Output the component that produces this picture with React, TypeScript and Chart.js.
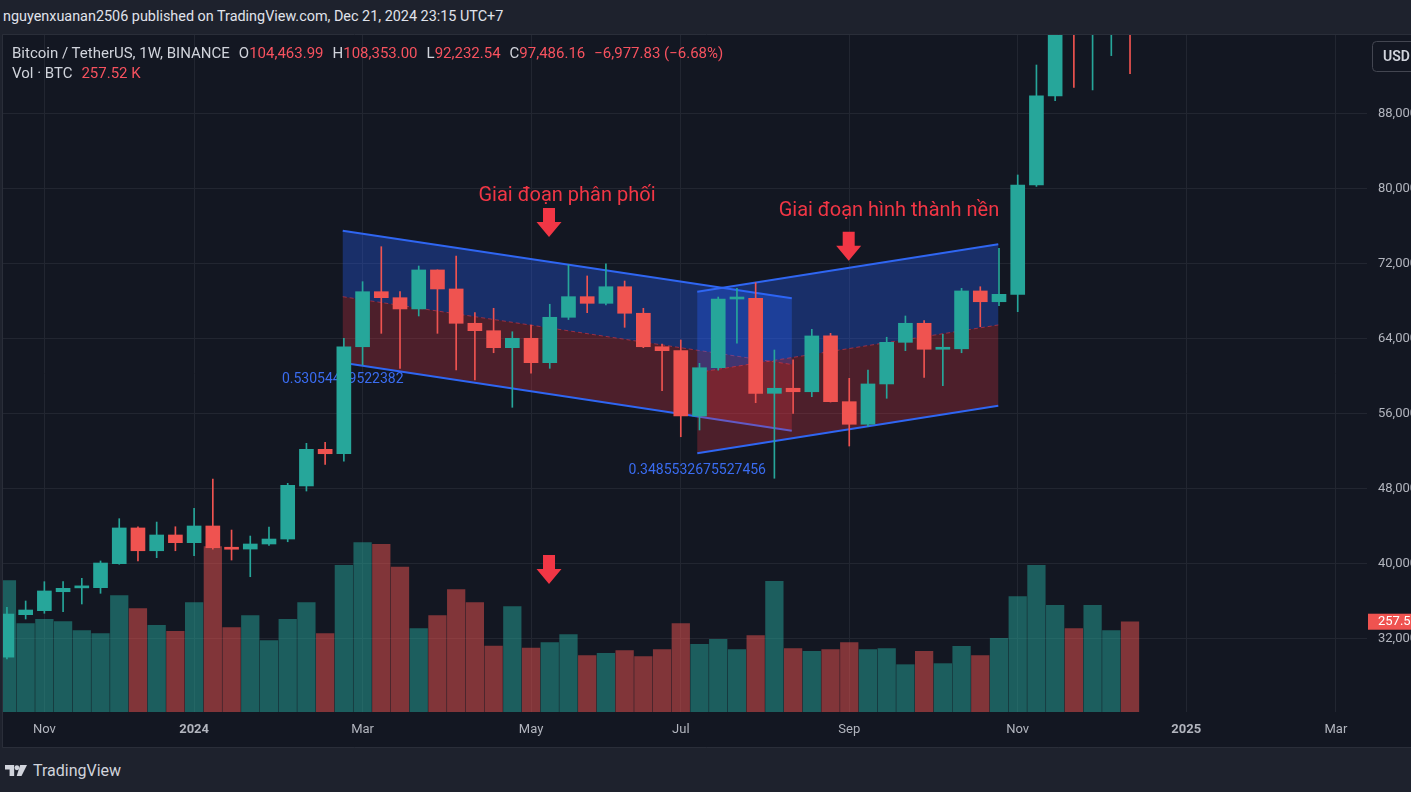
import React, { useEffect, useRef } from 'react';
import { Chart, registerables } from 'chart.js';

Chart.register(...registerables);

// ---------- data (weekly candles, BINANCE BTC/USDT) ----------
const WEEKS = [
  '2023-10-23', '2023-10-30', '2023-11-06', '2023-11-13', '2023-11-20', '2023-11-27', '2023-12-04', '2023-12-11', '2023-12-18', '2023-12-25',
  '2024-01-01', '2024-01-08', '2024-01-15', '2024-01-22', '2024-01-29', '2024-02-05', '2024-02-12', '2024-02-19', '2024-02-26',
  '2024-03-04', '2024-03-11', '2024-03-18', '2024-03-25', '2024-04-01', '2024-04-08', '2024-04-15', '2024-04-22', '2024-04-29',
  '2024-05-06', '2024-05-13', '2024-05-20', '2024-05-27', '2024-06-03', '2024-06-10', '2024-06-17', '2024-06-24',
  '2024-07-01', '2024-07-08', '2024-07-15', '2024-07-22', '2024-07-29', '2024-08-05', '2024-08-12', '2024-08-19', '2024-08-26',
  '2024-09-02', '2024-09-09', '2024-09-16', '2024-09-23', '2024-09-30', '2024-10-07', '2024-10-14', '2024-10-21', '2024-10-28',
  '2024-11-04', '2024-11-11', '2024-11-18', '2024-11-25', '2024-12-02', '2024-12-09', '2024-12-16',
];

const OPEN = [
  29990, 34520, 34950, 36970, 37380, 37400, 39960, 43770, 41340, 43020,
  42200, 43980, 41660, 41520, 42060, 42590, 48250, 52160, 51690,
  63100, 68970, 68330, 67130, 71290, 69260, 65600, 64810, 63000,
  64000, 61400, 66240, 68440, 67730, 69500, 66670, 63100,
  62680, 55710, 60860, 68190, 68260, 58130, 58670, 58300, 64250,
  57240, 54830, 59130, 63570, 65600, 62830, 62880, 69050, 67900,
  68690, 80350, 89850, 97900, 97200, 101100, 104464,
];

const HIGH = [
  35300, 35980, 38040, 38040, 38400, 40250, 44760, 43900, 44400, 43900,
  45870, 48990, 43550, 42910, 43870, 48530, 52800, 52910, 64000,
  70040, 73770, 68970, 71710, 71300, 72780, 66730, 67200, 64700,
  65420, 67630, 71820, 70650, 71930, 70110, 67200, 63390,
  63820, 61330, 68400, 69330, 69930, 62750, 61690, 64960, 64530,
  59730, 60620, 64110, 66380, 65900, 64430, 69330, 69500, 73600,
  81420, 93150, 99500, 98900, 104000, 105200, 108353,
];

const LOW = [
  29800, 34060, 34670, 34840, 35660, 36800, 39900, 40250, 40600, 41340,
  40810, 41500, 40350, 38570, 41900, 42300, 47710, 50560, 50900,
  61150, 64530, 60800, 66380, 64530, 60620, 59550, 62460, 56640,
  60270, 60800, 66000, 66730, 67550, 65170, 63000, 58410,
  53500, 54220, 60600, 63470, 57130, 49070, 56000, 57770, 57200,
  52510, 54600, 57600, 62680, 59840, 58940, 62460, 65240, 67480,
  66840, 80200, 89350, 90770, 90490, 94150, 92233,
];

const CLOSE = [
  34590, 35020, 37050, 37330, 37440, 40030, 43770, 41340, 43020, 42200,
  43980, 41660, 41500, 42060, 42590, 48320, 52160, 51690, 63100,
  68970, 68330, 67130, 71290, 69260, 65600, 64810, 63000, 64000,
  61400, 66240, 68440, 67730, 69500, 66670, 63100, 62680,
  55710, 60860, 68190, 68260, 58130, 58670, 58300, 64250, 57240,
  54830, 59130, 63570, 65600, 62830, 62880, 69050, 67900, 68690,
  80350, 89850, 97900, 97200, 101100, 104464, 97486,
];

// volume in thousands of BTC
const VOLUME_K = [
  375, 252, 264, 258, 232, 224, 332, 295, 247, 230,
  312, 472, 241, 275, 204, 264, 312, 224, 418,
  483, 478, 413, 238, 275, 349, 312, 188, 301,
  182, 198, 221, 161, 167, 175, 158, 178,
  252, 193, 207, 178, 218, 373, 181, 173, 178,
  198, 178, 181, 135, 173, 138, 187, 161, 210,
  329, 418, 304, 238, 304, 232, 257.52,
];

const X_TICK_DATES = ['2023-11-06', '2024-01-01', '2024-03-04', '2024-05-06', '2024-07-01', '2024-09-02', '2024-11-04', '2025-01-06', '2025-03-03'];
const X_TICK_LABELS = ['Nov', '2024', 'Mar', 'May', 'Jul', 'Sep', 'Nov', '2025', 'Mar'];
const X_TICK_BOLD = ['2024', '2025'];
const PRICE_TICKS = [32000, 40000, 48000, 56000, 64000, 72000, 80000, 88000];

// axis ranges (weeks from origin week, USDT, K BTC)
const ORIGIN_WEEK = '2023-11-06';
const X_MIN = -2.21;
const X_MAX = 70.66;
const PRICE_MIN = 24140;
const PRICE_MAX = 96350;
const VOLUME_MAX_K = 1931;

// drawings, in data coordinates (week index, price)
const DISTRIBUTION_CHANNEL = { x0: 15.94, x1: 39.93, top0: 75480, top1: 68270, bot0: 61390, bot1: 54140, label: '0.53054439522382' };
const BASE_CHANNEL = { x0: 34.88, x1: 50.96, top0: 68970, top1: 74030, bot0: 51730, bot1: 56810, label: '0.3485532675527456' };
const CHANNELS = [DISTRIBUTION_CHANNEL, BASE_CHANNEL];

const NOTE_TEXTS = ['Giai đoạn phân phối', 'Giai đoạn hình thành nền'];
const NOTE_X = [27.92, 45.12];
const NOTE_PRICE = [79180, 77580];

const ARROW_X = [26.96, 42.97, 26.96];
const ARROW_TOP_PRICE = [77900, 75370, 40890];

// ---------- style ----------
const FONT = 'Roboto, "Noto Sans", "DejaVu Sans", sans-serif';
const OUTER_BG = '#1e222d';
const PANEL_BG = '#131722';
const FRAME = '#2a2e39';
const GRID = '#222631';
const TEXT = '#d1d4dc';
const AXIS_TEXT = '#b2b5be';
const UP = '#26a69a';
const DOWN = '#ef5350';
const VOL_UP = 'rgba(38,166,154,0.5)';
const VOL_DOWN = 'rgba(239,83,80,0.5)';
const RED_TEXT = '#f23645';
const LEGEND_RED = '#f7525f';

const weekIndex = (d: string) =>
  Math.round((Date.parse(d + 'T00:00:00Z') - Date.parse(ORIGIN_WEEK + 'T00:00:00Z')) / (7 * 86400000));

const drawingsPlugin = {
  id: 'tvDrawings',
  beforeDraw(chart: any) {
    const { ctx, width, height } = chart;
    ctx.save();
    ctx.fillStyle = OUTER_BG;
    ctx.fillRect(0, 0, width, height);
    ctx.fillStyle = PANEL_BG;
    ctx.fillRect(3, 0, width - 3, height - 1);
    ctx.restore();
  },
  beforeDatasetsDraw(chart: any) {
    const { ctx, chartArea } = chart;
    const x = chart.scales.x;
    const y = chart.scales.y;
    ctx.save();
    ctx.beginPath();
    ctx.rect(chartArea.left, chartArea.top, chartArea.right - chartArea.left, chartArea.bottom - chartArea.top);
    ctx.clip();
    for (const ch of CHANNELS) {
      const X0 = x.getPixelForValue(ch.x0);
      const X1 = x.getPixelForValue(ch.x1);
      const T0 = y.getPixelForValue(ch.top0);
      const T1 = y.getPixelForValue(ch.top1);
      const B0 = y.getPixelForValue(ch.bot0);
      const B1 = y.getPixelForValue(ch.bot1);
      const M0 = (T0 + B0) / 2;
      const M1 = (T1 + B1) / 2;
      ctx.fillStyle = 'rgba(41,98,255,0.32)';
      ctx.beginPath();
      ctx.moveTo(X0, T0); ctx.lineTo(X1, T1); ctx.lineTo(X1, M1); ctx.lineTo(X0, M0); ctx.closePath();
      ctx.fill();
      ctx.fillStyle = 'rgba(242,54,69,0.26)';
      ctx.beginPath();
      ctx.moveTo(X0, M0); ctx.lineTo(X1, M1); ctx.lineTo(X1, B1); ctx.lineTo(X0, B0); ctx.closePath();
      ctx.fill();
      ctx.strokeStyle = 'rgba(242,54,69,0.55)';
      ctx.lineWidth = 1;
      ctx.setLineDash([4, 3]);
      ctx.beginPath(); ctx.moveTo(X0, M0); ctx.lineTo(X1, M1); ctx.stroke();
      ctx.setLineDash([]);
      ctx.strokeStyle = '#2f66f2';
      ctx.lineWidth = 2;
      ctx.beginPath(); ctx.moveTo(X0, T0); ctx.lineTo(X1, T1); ctx.stroke();
      ctx.beginPath(); ctx.moveTo(X0, B0); ctx.lineTo(X1, B1); ctx.stroke();
      ctx.fillStyle = '#3a6cf0';
      ctx.font = '14px ' + FONT;
      ctx.textAlign = 'center';
      ctx.textBaseline = 'middle';
      ctx.fillText(ch.label, X0, B0 + 17);
    }
    ctx.restore();
  },
  afterDatasetsDraw(chart: any) {
    const { ctx, chartArea } = chart;
    const x = chart.scales.x;
    const y = chart.scales.y;
    ctx.save();
    ctx.beginPath();
    ctx.rect(chartArea.left, chartArea.top, chartArea.right - chartArea.left, chartArea.bottom - chartArea.top);
    ctx.clip();
    ctx.fillStyle = RED_TEXT;
    ctx.font = '20px ' + FONT;
    ctx.textAlign = 'center';
    ctx.textBaseline = 'middle';
    NOTE_TEXTS.forEach((t, i) => {
      ctx.fillText(t, x.getPixelForValue(NOTE_X[i]), y.getPixelForValue(NOTE_PRICE[i]));
    });
    ARROW_X.forEach((ax, i) => {
      const cx = x.getPixelForValue(ax);
      const top = y.getPixelForValue(ARROW_TOP_PRICE[i]);
      ctx.beginPath();
      ctx.moveTo(cx - 6, top);
      ctx.lineTo(cx + 6, top);
      ctx.lineTo(cx + 6, top + 14);
      ctx.lineTo(cx + 12.5, top + 14);
      ctx.lineTo(cx, top + 29);
      ctx.lineTo(cx - 12.5, top + 14);
      ctx.lineTo(cx - 6, top + 14);
      ctx.closePath();
      ctx.fill();
    });
    ctx.restore();
  },
  afterDraw(chart: any) {
    const { ctx, chartArea, width, height } = chart;
    const yv = chart.scales.yv;
    ctx.save();
    // frame
    ctx.strokeStyle = FRAME;
    ctx.lineWidth = 1;
    ctx.beginPath();
    ctx.moveTo(2.5, 0.5); ctx.lineTo(width, 0.5);
    ctx.moveTo(2.5, 0.5); ctx.lineTo(2.5, height - 0.5);
    ctx.moveTo(2.5, height - 0.5); ctx.lineTo(width, height - 0.5);
    ctx.stroke();
    // currency button
    const bx = chartArea.right + 5;
    ctx.strokeStyle = '#434651';
    ctx.fillStyle = PANEL_BG;
    ctx.beginPath();
    ctx.roundRect(bx + 0.5, 7.5, 48, 30, 4);
    ctx.fill();
    ctx.stroke();
    ctx.fillStyle = TEXT;
    ctx.font = '600 14px ' + FONT;
    ctx.textAlign = 'left';
    ctx.textBaseline = 'middle';
    ctx.fillText('USD', bx + 11, 23);
    // last volume label
    const lastV = VOLUME_K[VOLUME_K.length - 1];
    const vy = yv.getPixelForValue(lastV);
    ctx.fillStyle = DOWN;
    ctx.fillRect(chartArea.right + 1, vy - 8, width - chartArea.right, 16);
    ctx.fillStyle = '#ffffff';
    ctx.font = '13px ' + FONT;
    ctx.fillText(lastV.toFixed(2) + 'K', chartArea.right + 11, vy + 0.5);
    ctx.restore();
  },
};

function TVLogo() {
  return (
    <svg width="22" height="13" viewBox="0 0 24 14" style={{ display: 'block' }}>
      <path d="M0 1h10v12H5V6H0z" fill={TEXT} />
      <circle cx="13" cy="4" r="2.6" fill={TEXT} />
      <path d="M16.5 1H24l-6 12h-5.2z" fill={TEXT} />
    </svg>
  );
}

export default function App() {
  const canvasRef = useRef<HTMLCanvasElement>(null);

  useEffect(() => {
    const canvas = canvasRef.current;
    if (!canvas) return;
    const xs = WEEKS.map(weekIndex);
    const isUp = CLOSE.map((c, i) => c >= OPEN[i]);
    const candleColors = isUp.map((u) => (u ? UP : DOWN));
    const volColors = isUp.map((u) => (u ? VOL_UP : VOL_DOWN));
    const tickPos = X_TICK_DATES.map(weekIndex);

    const chart = new Chart(canvas, {
      type: 'bar',
      data: {
        datasets: [
          {
            label: 'body',
            data: xs.map((x, i) => ({ x, y: [OPEN[i], CLOSE[i]] })) as any,
            backgroundColor: candleColors,
            barThickness: 14,
            minBarLength: 2,
            grouped: false,
            order: 1,
            yAxisID: 'y',
          },
          {
            label: 'wick',
            data: xs.map((x, i) => ({ x, y: [LOW[i], HIGH[i]] })) as any,
            backgroundColor: candleColors,
            barThickness: 1,
            grouped: false,
            order: 2,
            yAxisID: 'y',
          },
          {
            label: 'volume',
            data: xs.map((x, i) => ({ x, y: VOLUME_K[i] })) as any,
            backgroundColor: volColors,
            barThickness: 17.6,
            grouped: false,
            order: 3,
            yAxisID: 'yv',
          },
        ],
      },
      options: {
        animation: false,
        responsive: false,
        devicePixelRatio: 1,
        layout: { autoPadding: false, padding: { left: 3, top: 1, right: 0, bottom: 0 } },
        plugins: { legend: { display: false }, tooltip: { enabled: false } },
        scales: {
          x: {
            type: 'linear',
            min: X_MIN,
            max: X_MAX,
            offset: false,
            grid: { color: GRID, drawTicks: false, offset: false },
            border: { display: false },
            afterBuildTicks: (s: any) => {
              s.ticks = tickPos.map((v) => ({ value: v }));
            },
            afterFit: (s: any) => {
              s.height = 36;
              s.paddingLeft = 0;
              s.paddingRight = 0;
              s.paddingTop = 0;
              s.paddingBottom = 0;
            },
            ticks: {
              autoSkip: false,
              maxRotation: 0,
              padding: 10,
              color: AXIS_TEXT,
              font: (c: any) => {
                const label = X_TICK_LABELS[tickPos.indexOf(c.tick ? c.tick.value : NaN)];
                return { family: FONT, size: 13, weight: X_TICK_BOLD.includes(label) ? 'bold' : 'normal' };
              },
              callback: (v: any) => X_TICK_LABELS[tickPos.indexOf(Number(v))] ?? '',
            },
          },
          y: {
            type: 'linear',
            position: 'right',
            min: PRICE_MIN,
            max: PRICE_MAX,
            grid: { color: GRID, drawTicks: false },
            border: { display: false },
            afterBuildTicks: (s: any) => {
              s.ticks = PRICE_TICKS.map((v) => ({ value: v }));
            },
            afterFit: (s: any) => {
              s.width = 44;
              s.paddingTop = 0;
              s.paddingBottom = 0;
              s.paddingLeft = 0;
              s.paddingRight = 0;
            },
            ticks: {
              padding: 11,
              color: AXIS_TEXT,
              font: { family: FONT, size: 13 },
              callback: (v: any) => Number(v).toLocaleString('en-US'),
            },
          },
          yv: {
            type: 'linear',
            display: false,
            min: 0,
            max: VOLUME_MAX_K,
          },
        },
      } as any,
      plugins: [drawingsPlugin as any],
    });
    return () => chart.destroy();
  }, []);

  const gray = { color: TEXT };
  const red = { color: LEGEND_RED };

  return (
    <div
      style={{
        position: 'fixed',
        left: 0,
        top: 0,
        width: 1411,
        height: 792,
        background: OUTER_BG,
        overflow: 'hidden',
        fontFamily: FONT,
      }}
    >
      <div style={{ position: 'absolute', left: 3, top: 7, fontSize: 14.4, lineHeight: '20px', color: '#e0e3eb', whiteSpace: 'pre' }}>
        nguyenxuanan2506 published on TradingView.com, Dec 21, 2024 23:15 UTC+7
      </div>
      <canvas ref={canvasRef} width={1411} height={714} style={{ position: 'absolute', left: 0, top: 34, display: 'block' }} />
      <div style={{ position: 'absolute', left: 12, top: 43, fontSize: 15, lineHeight: '20px', whiteSpace: 'pre' }}>
        <div>
          <span style={gray}>Bitcoin / TetherUS, 1W, BINANCE</span>
          <span style={{ ...gray, marginLeft: 9 }}>O</span><span style={red}>104,463.99</span>
          <span style={{ ...gray, marginLeft: 9 }}>H</span><span style={red}>108,353.00</span>
          <span style={{ ...gray, marginLeft: 9 }}>L</span><span style={red}>92,232.54</span>
          <span style={{ ...gray, marginLeft: 9 }}>C</span><span style={red}>97,486.16</span>
          <span style={{ ...red, marginLeft: 9 }}>−6,977.83 (−6.68%)</span>
        </div>
        <div>
          <span style={gray}>Vol · BTC</span>
          <span style={{ ...red, marginLeft: 9 }}>257.52 K</span>
        </div>
      </div>
      <div style={{ position: 'absolute', left: 5, top: 761, display: 'flex', alignItems: 'center', gap: 6 }}>
        <TVLogo />
        <span style={{ color: TEXT, fontSize: 16 }}>TradingView</span>
      </div>
    </div>
  );
}
